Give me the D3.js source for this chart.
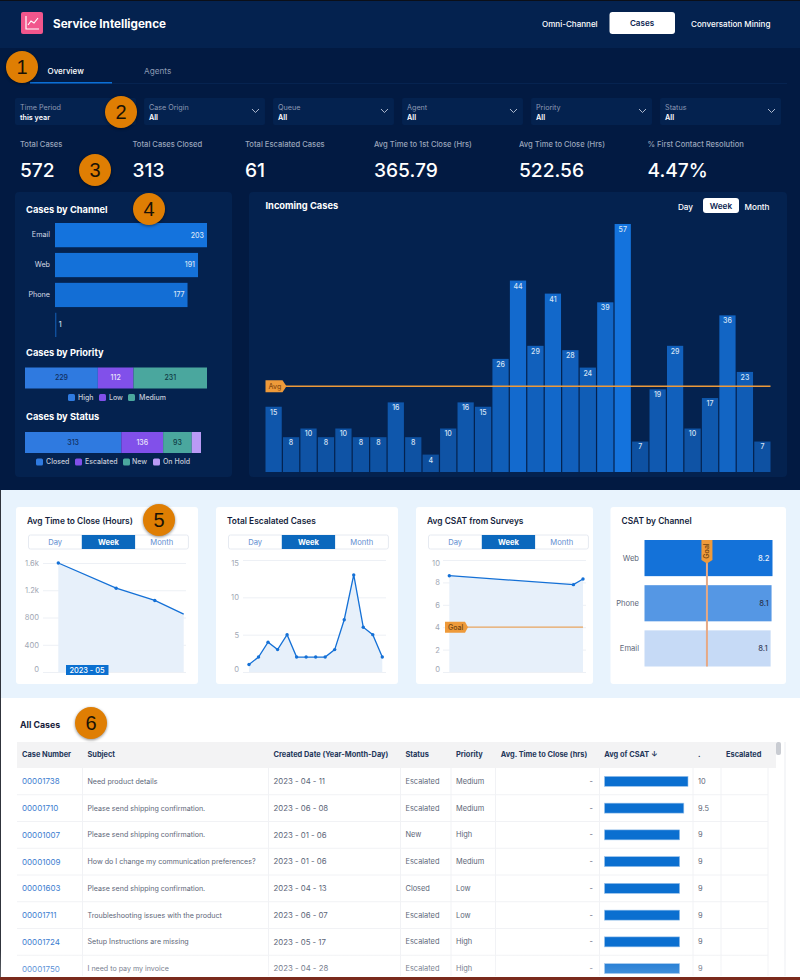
<!DOCTYPE html>
<html>
<head>
<meta charset="utf-8">
<script src="https://cdnjs.cloudflare.com/ajax/libs/d3/7.8.5/d3.min.js"></script>
<style>
  html, body { margin: 0; padding: 0; background: #fff; }
  svg { display: block; }
  text { font-family: Inter, "Noto Sans", sans-serif; }
  .axis .domain { display: none; }
</style>
</head>
<body>
<svg id="page" width="800" height="980"></svg>
<script>
// kpi strip
const kpiLabels = ["Total Cases", "Total Cases Closed", "Total Escalated Cases", "Avg Time to 1st Close (Hrs)", "Avg Time to Close (Hrs)", "% First Contact Resolution"];
const kpiValues = ["572", "313", "61", "365.79", "522.56", "4.47%"];
const filterLabels = ["Time Period", "Case Origin", "Queue", "Agent", "Priority", "Status"];
const filterValues = ["this year", "All", "All", "All", "All", "All"];

// dark panels
const channels = ["Email", "Web", "Phone", ""];
const channelCases = [203, 191, 177, 1];
const priorities = ["High", "Low", "Medium"];
const priorityCases = [229, 112, 231];
const statuses = ["Closed", "Escalated", "New", "On Hold"];
const statusCases = [313, 136, 93, 30];
const incomingCases = [15, 8, 10, 8, 10, 8, 8, 16, 8, 4, 10, 16, 15, 26, 44, 29, 41, 28, 24, 39, 57, 7, 19, 29, 10, 17, 36, 23, 7];

// light cards
const closeWeeks = [14, 20, 24, 27];
const closeHours = [1600, 1230, 1050, 850];
const closeTicks = [0, 400, 800, 1200, 1600];
const escalatedWeeks = [1, 2, 3, 4, 5, 6, 7, 8, 9, 10, 11, 12, 13, 14, 15];
const escalatedCases = [1, 2, 4, 3, 5, 2, 2, 2, 2, 3, 7, 13, 6, 5, 2];
const escalatedTicks = [0, 5, 10, 15];
const csatWeeks = [14, 27, 28];
const csatScores = [8.6, 7.8, 8.3];
const csatTicks = [0, 2, 4, 6, 8, 10];
const csatGoal = 4;
const csatChannels = ["Web", "Phone", "Email"];
const csatChannelScores = [8.2, 8.14, 8.08];

// table
const tableHeaders = ["Case Number", "Subject", "Created Date (Year-Month-Day)", "Status", "Priority", "Avg. Time to Close (hrs)", "Avg of CSAT  ↓", ".", "Escalated"];
const caseNumbers = ["00001738", "00001710", "00001007", "00001009", "00001603", "00001711", "00001724", "00001750"];
const caseSubjects = ["Need product details", "Please send shipping confirmation.", "Please send shipping confirmation.", "How do I change my communication preferences?", "Please send shipping confirmation.", "Troubleshooting issues with the product", "Setup Instructions are missing", "I need to pay my invoice"];
const caseDates = ["2023 - 04 - 11", "2023 - 06 - 08", "2023 - 01 - 06", "2023 - 01 - 06", "2023 - 04 - 13", "2023 - 06 - 07", "2023 - 05 - 17", "2023 - 04 - 28"];
const caseStatus = ["Escalated", "Escalated", "New", "Escalated", "Closed", "Escalated", "Escalated", "Escalated"];
const casePriority = ["Medium", "Medium", "High", "Medium", "Low", "Low", "High", "High"];
const caseCsat = [10, 9.5, 9, 9, 9, 9, 9, 9];

const ORANGE = "#ee9a3a";
const svg = d3.select("#page");

function label(g, x, y, str, size, fill, weight, anchor) {
  return g.append("text").attr("x", x).attr("y", y).attr("dy", "0.35em")
    .attr("font-size", size).attr("fill", fill).attr("font-weight", weight || 400)
    .attr("text-anchor", anchor || "start").text(str);
}

function box(g, x, y, w, h, fill, r) {
  return g.append("rect").attr("x", x).attr("y", y).attr("width", w).attr("height", h)
    .attr("fill", fill).attr("rx", r || 0);
}

// ---- backgrounds
box(svg, 0, 0, 800, 490, "#021a42");
box(svg, 0, 0, 800, 48, "#04224f");
box(svg, 0, 490, 800, 208, "#e8f3fd");
box(svg, 0, 698, 800, 282, "#ffffff");
box(svg, 0, 0, 800, 1, "#0b0f18");
box(svg, 0, 490, 1, 490, "#30343c");

// ---- header
box(svg, 21, 12, 22, 22, "#f1568c", 2);
svg.append("path").attr("d", "M26 16 V29 H39 M28 25 L31 21 L34 23 L38 18")
  .attr("fill", "none").attr("stroke", "#fff").attr("stroke-width", 1.2);
label(svg, 53, 23.5, "Service Intelligence", 11.7, "#fff", 700);
label(svg, 542, 24, "Omni-Channel", 8.05, "#fff", 500);
box(svg, 609.5, 12, 65.5, 22, "#fff", 3);
label(svg, 642, 23.5, "Cases", 8.05, "#0a2350", 600, "middle");
label(svg, 691, 24, "Conversation Mining", 8.05, "#fff", 500);

// ---- tabs
label(svg, 47.5, 71, "Overview", 8, "#fff", 500);
label(svg, 144, 71, "Agents", 8.2, "#8c99b3");
box(svg, 30, 83, 757, 0.6, "#0b2a5a");
box(svg, 30, 82, 82, 1.5, "#0b6fd6");

// ---- filters
const filterX = d3.scaleBand().domain(filterLabels).range([15, 781]).paddingInner(0.0625);
filterLabels.forEach((f, i) => {
  const x = filterX(f), w = filterX.bandwidth();
  box(svg, x, 98, w, 27, "#04224f", 2);
  label(svg, x + 5, 107, f, 7.2, "#8e9ab4");
  label(svg, x + 5, 117, filterValues[i], 7.2, "#fff", 600);
  if (i > 0) {
    svg.append("path").attr("fill", "none").attr("stroke", "#c2cbdc").attr("stroke-width", 0.9)
      .attr("d", `M${x + w - 13} 109 l3.5 3.5 l3.5 -3.5`);
  }
});

// ---- kpis
const kpiX = [20, 132.5, 245, 374, 519, 647.5];
kpiLabels.forEach((k, i) => {
  label(svg, kpiX[i], 144.5, k, 7.6, "#9aa5bb", 500);
  label(svg, kpiX[i], 170.5, kpiValues[i], 19.2, "#fff", 500);
});

// ---- left panel
box(svg, 15, 192, 217, 285, "#04224f", 4);
const left = svg.append("g");
label(left, 26, 209.5, "Cases by Channel", 9.3, "#fff", 700);

const channelColor = d3.scaleLinear().domain([1, 203]).range(["#0f4f9c", "#1473dd"]);
const channelX = d3.scaleLinear().domain([0, 203]).range([55, 207]);
const channelY = d3.scaleBand().domain(channels).range([223, 337]).paddingInner(0.19);
left.selectAll(".chan").data(channels).join("rect").attr("class", "chan")
  .attr("x", channelX(0)).attr("y", d => channelY(d))
  .attr("width", (d, i) => Math.max(channelX(channelCases[i]) - channelX(0), 1.4))
  .attr("height", channelY.bandwidth())
  .attr("fill", (d, i) => channelColor(channelCases[i]));
left.append("g").attr("class", "axis").attr("transform", "translate(50,0)")
  .call(d3.axisLeft(channelY).tickSize(0).tickPadding(0))
  .call(g => g.selectAll("text").attr("font-size", 7.2).attr("fill", "#d5dbe6").style("font-family", "Inter"));
channels.forEach((c, i) => {
  const v = channelCases[i], big = v > 20;
  label(left, big ? channelX(v) - 3 : channelX(v) + 3, channelY(c) + channelY.bandwidth() / 2, v, 7, "#d7e3f5", 500, big ? "end" : "start");
});

function stacked(names, values, title, titleY, barY, legendY, colors, inks, legendX, textX, total) {
  label(left, 26, titleY, title, 9.3, "#fff", 700);
  const x = d3.scaleLinear().domain([0, total]).range([25, 207]);
  let run = 0;
  names.forEach((n, i) => {
    const x0 = x(run), x1 = x(run + values[i]);
    box(left, x0, barY, x1 - x0, 21, colors[i]);
    if (x1 - x0 > 15) label(left, (x0 + x1) / 2, barY + 10.5, values[i], 7, inks[i], 500, "middle");
    run += values[i];
    box(left, legendX[i], legendY - 3.5, 7, 7, colors[i], 1.5);
    label(left, textX[i], legendY, n, 7, "#c4cbd9", 500);
  });
}
const stackColors = ["#2f7ae0", "#8150ea", "#4aa79e", "#b99af5"];
const stackInks = ["#0f2f60", "#e9e4fb", "#0f3a44", "#0f2f60"];
stacked(priorities, priorityCases, "Cases by Priority", 352.5, 367.5, 397.5, stackColors, stackInks, [68, 99, 128], [78, 109, 139], d3.sum(priorityCases));
// status bar is a touch narrower in the picture, so its scale stays on the same px per case
stacked(statuses, statusCases, "Cases by Status", 417, 432, 462, stackColors, stackInks, [36, 75, 123, 153], [46, 85, 132, 163], 572 * 182 / 176);

// ---- incoming cases
box(svg, 249, 192, 538, 285, "#04224f", 4);
const inc = svg.append("g");
label(inc, 265.5, 206, "Incoming Cases", 9.3, "#fff", 700);
label(inc, 685.5, 207, "Day", 8.2, "#fff", 500, "middle");
box(inc, 703, 198, 36, 15, "#fff", 3);
label(inc, 721, 206, "Week", 8.2, "#0a2350", 600, "middle");
label(inc, 757, 207, "Month", 8.2, "#fff", 500, "middle");

const weekBand = d3.scaleBand().domain(d3.range(incomingCases.length)).range([265.5, 770.5]).paddingInner(0.07);
const incY = d3.scaleLinear().domain([0, 57]).range([472, 224]);
const incColor = d3.scaleLinear().domain([4, 57]).range(["#0e4f9e", "#1473dd"]);
inc.selectAll(".wk").data(incomingCases).join("rect").attr("class", "wk")
  .attr("x", (d, i) => weekBand(i)).attr("width", weekBand.bandwidth())
  .attr("y", d => incY(d)).attr("height", d => incY(0) - incY(d))
  .attr("fill", d => incColor(d));
inc.selectAll(".wkl").data(incomingCases).join("text").attr("class", "wkl")
  .attr("x", (d, i) => weekBand(i) + weekBand.bandwidth() / 2).attr("y", d => incY(d) + 5.5)
  .attr("dy", "0.35em").attr("text-anchor", "middle").attr("font-size", 7).attr("font-weight", 500)
  .attr("fill", "#d7e3f5").text(d => d);
const avgY = incY(d3.mean(incomingCases));
inc.append("line").attr("x1", 284).attr("x2", 770.5).attr("y1", avgY).attr("y2", avgY)
  .attr("stroke", ORANGE).attr("stroke-width", 1.4);
inc.append("path").attr("transform", `translate(265.5,${avgY})`).attr("fill", ORANGE)
  .attr("d", "M0 -6 H17 L21 0 L17 6 H0 Z");
label(inc, 268.5, avgY + 0.5, "Avg", 7, "#8a4b10", 500);

// ---- line cards
function lineCard(o) {
  const g = svg.append("g");
  box(g, o.x, 507, o.w, 177, "#fff", 3);
  label(g, o.x + 11, 521, o.title, 8.4, "#141e3c", 600);
  const names = ["Day", "Week", "Month"], cell = 53.3, tx = o.x + 12.5;
  g.append("rect").attr("x", tx).attr("y", 535).attr("width", cell * 3).attr("height", 14)
    .attr("fill", "#fff").attr("stroke", "#e6eaf1").attr("rx", 2);
  names.forEach((n, i) => {
    if (n === "Week") box(g, tx + cell, 535, cell, 14, "#0b68bd");
    label(g, tx + cell * (i + 0.5), 542.2, n, 7.6, n === "Week" ? "#fff" : "#5f8dd0", n === "Week" ? 700 : 400, "middle");
  });

  const y = d3.scaleLinear().domain(o.yDomain).range([672, o.yTop]);
  const x = d3.scaleLinear().domain(d3.extent(o.xs)).range(o.xRange);
  const area = d3.area().x((d, i) => x(o.xs[i])).y0(y(0)).y1(d => y(d));
  const line = d3.line().x((d, i) => x(o.xs[i])).y(d => y(d));

  g.append("g").attr("class", "axis").attr("transform", `translate(${o.gridX1},0)`)
    .call(d3.axisLeft(y).tickValues(o.ticks).tickFormat(o.fmt).tickSize(o.gridX1 - o.gridX0).tickPadding(0))
    .call(a => a.selectAll("line").attr("stroke", "#edf0f5"))
    .call(a => a.selectAll("text").attr("x", o.labelX - o.gridX1).attr("font-size", 7.6).attr("fill", "#a2a8b4")
      .style("font-family", "Inter")
      .attr("dy", d => d === 0 ? "-0.1em" : (d === o.yDomain[1] && o.nudgeTop ? "0.7em" : "0.32em")));

  g.append("path").attr("d", area(o.ys)).attr("fill", "#e7f0fa");
  if (o.goal !== undefined) {
    g.append("line").attr("x1", x(o.xs[0]) - 4).attr("x2", o.xRange[1]).attr("y1", y(o.goal)).attr("y2", y(o.goal))
      .attr("stroke", "#e8a45e").attr("stroke-width", 1.2);
    g.append("path").attr("transform", `translate(${o.x + 29},${y(o.goal)})`).attr("fill", ORANGE)
      .attr("d", "M0 -5.5 H20 L23 0 L20 5.5 H0 Z");
    label(g, o.x + 32, y(o.goal), "Goal", 7, "#6f4310", 500);
  }
  g.append("path").attr("d", line(o.ys)).attr("fill", "none").attr("stroke", "#1470d6").attr("stroke-width", 1.3);
  g.selectAll(".pt").data(o.ys.slice(0, o.dotCount || o.ys.length)).join("circle").attr("class", "pt")
    .attr("cx", (d, i) => x(o.xs[i])).attr("cy", d => y(d)).attr("r", 1.7).attr("fill", "#1470d6");
  return g;
}

const closeCard = lineCard({
  x: 16, w: 182, title: "Avg Time to Close (Hours)", xs: closeWeeks, ys: closeHours, xRange: [58.3, 183.7],
  yDomain: [0, 1600], yTop: 563, ticks: closeTicks, fmt: d => d >= 1000 ? (d / 1000) + "k" : d,
  gridX0: 43, gridX1: 186, labelX: 39, dotCount: 3
});
box(closeCard, 66, 665, 42.5, 10, "#0b70d0");
label(closeCard, 87, 670, "2023 - 05", 7.4, "#fff", 500, "middle");

lineCard({
  x: 216, w: 182, title: "Total Escalated Cases", xs: escalatedWeeks, ys: escalatedCases, xRange: [249, 382.3],
  yDomain: [0, 15], yTop: 560, ticks: escalatedTicks, fmt: d => d,
  gridX0: 243, gridX1: 386, labelX: 239, nudgeTop: true
});
lineCard({
  x: 416, w: 177, title: "Avg CSAT from Surveys", xs: csatWeeks, ys: csatScores, xRange: [449.3, 583],
  yDomain: [0, 10], yTop: 560, ticks: csatTicks, fmt: d => d,
  gridX0: 443, gridX1: 586, labelX: 440, nudgeTop: true, goal: csatGoal
});

// ---- csat by channel
const cc = svg.append("g");
box(cc, 610.5, 507, 175.5, 177, "#fff", 3);
label(cc, 621.5, 521, "CSAT by Channel", 8.4, "#141e3c", 600);
const ccX = d3.scaleLinear().domain([0, 8.2]).range([644.5, 772.5]);
const ccY = d3.scaleBand().domain(csatChannels).range([540, 666.5]).paddingInner(0.2);
const ccFill = ["#1472d9", "#5597e4", "#c6daf6"];
const ccInk = ["#e6effb", "#27344f", "#3b4660"];
cc.selectAll(".ccb").data(csatChannelScores).join("rect").attr("class", "ccb")
  .attr("x", ccX(0)).attr("y", (d, i) => ccY(csatChannels[i]))
  .attr("width", d => ccX(d) - ccX(0)).attr("height", ccY.bandwidth())
  .attr("fill", (d, i) => ccFill[i]);
cc.append("g").attr("class", "axis").attr("transform", "translate(639,0)")
  .call(d3.axisLeft(ccY).tickSize(0).tickPadding(0))
  .call(a => a.selectAll("text").attr("font-size", 7.6).attr("fill", "#5d6678").style("font-family", "Inter"));
csatChannels.forEach((c, i) => {
  label(cc, ccX(csatChannelScores[i]) - 3, ccY(c) + ccY.bandwidth() / 2, d3.format(".1f")(csatChannelScores[i]), 7.6, ccInk[i], 500, "end");
});
const goalX = ccX(csatGoal);
cc.append("line").attr("x1", goalX).attr("x2", goalX).attr("y1", 545).attr("y2", 666.5)
  .attr("stroke", "#e6a985").attr("stroke-width", 2);
cc.append("path").attr("transform", `translate(${goalX},540)`).attr("fill", ORANGE)
  .attr("d", "M-5.5 0 H5.5 V20 L0 23.5 L-5.5 20 Z");
cc.append("text").attr("transform", `translate(${goalX},551) rotate(-90)`).attr("dy", "0.35em")
  .attr("text-anchor", "middle").attr("font-size", 7).attr("font-weight", 500).attr("fill", "#6f4310").text("Goal");

// ---- all cases table
const tb = svg.append("g");
label(tb, 20, 724.5, "All Cases", 8.8, "#16203a", 700);
box(tb, 17, 742, 759, 26, "#f3f3f4");
const colX = [22, 87.5, 273.5, 405.5, 456, 500.7, 604.3, 698, 726];
const colLines = [82.5, 268.5, 400.5, 451, 495.5, 599.5, 693, 721, 768];
tableHeaders.forEach((h, i) => label(tb, colX[i], 754.5, h, 7.4, "#24375a", 700));

const rowY = d3.scaleBand().domain(d3.range(caseNumbers.length)).range([768, 982]);
const csatX = d3.scaleLinear().domain([0, 10]).range([604.5, 688]);
colLines.forEach(x => tb.append("line").attr("x1", x).attr("x2", x).attr("y1", 768).attr("y2", 976).attr("stroke", "#f1f2f5"));
caseNumbers.forEach((n, i) => {
  const cy = rowY(i) + rowY.bandwidth() / 2;
  tb.append("line").attr("x1", 17).attr("x2", 768).attr("y1", rowY(i) + rowY.bandwidth()).attr("y2", rowY(i) + rowY.bandwidth()).attr("stroke", "#f1f2f5");
  label(tb, colX[0], cy + 0.3, n, 8, "#3d7dd0");
  label(tb, colX[1], cy, caseSubjects[i], 7.1, "#5c6678");
  label(tb, colX[2], cy, caseDates[i], 7.8, "#5c6678");
  label(tb, colX[3], cy, caseStatus[i], 7.4, "#5c6678");
  label(tb, colX[4], cy, casePriority[i], 7.4, "#5c6678");
  label(tb, 593, cy, "-", 7.4, "#5c6678", 400, "end");
  tb.append("rect").attr("x", csatX(0)).attr("y", cy - 5).attr("width", csatX(caseCsat[i]) - csatX(0)).attr("height", 10)
    .attr("fill", "#0b6fd0").attr("stroke", "#9cc3ec").attr("stroke-width", 0.6);
  label(tb, colX[7], cy, caseCsat[i], 7.4, "#5c6678");
});
box(tb, 776, 742, 5, 13, "#c9ccd2", 2);
box(tb, 784.5, 742, 1, 234, "#eceef1");

// fade and the strip at the very bottom of the screenshot
const fade = svg.append("defs").append("linearGradient").attr("id", "fade").attr("x1", 0).attr("x2", 0).attr("y1", 0).attr("y2", 1);
fade.append("stop").attr("offset", 0).attr("stop-color", "#fff").attr("stop-opacity", 0);
fade.append("stop").attr("offset", 1).attr("stop-color", "#fff").attr("stop-opacity", 0.25);
box(svg, 0, 950, 800, 27, "url(#fade)");
box(svg, 0, 977, 800, 3, "#7a2a1c");

// ---- numbered callouts
const callouts = [[1, 22, 67], [2, 121, 112], [3, 95, 170], [4, 149, 209], [5, 159, 520], [6, 91, 723]];
callouts.forEach(c => {
  svg.append("circle").attr("cx", c[1]).attr("cy", c[2]).attr("r", 16).attr("fill", "#df7e03")
    .style("filter", "drop-shadow(0 1.5px 1.5px rgba(0,0,0,0.45))");
  label(svg, c[1], c[2], c[0], 20, "#1a1206", 400, "middle").style("font-family", "Liberation Sans");
});
</script>
</body>
</html>
